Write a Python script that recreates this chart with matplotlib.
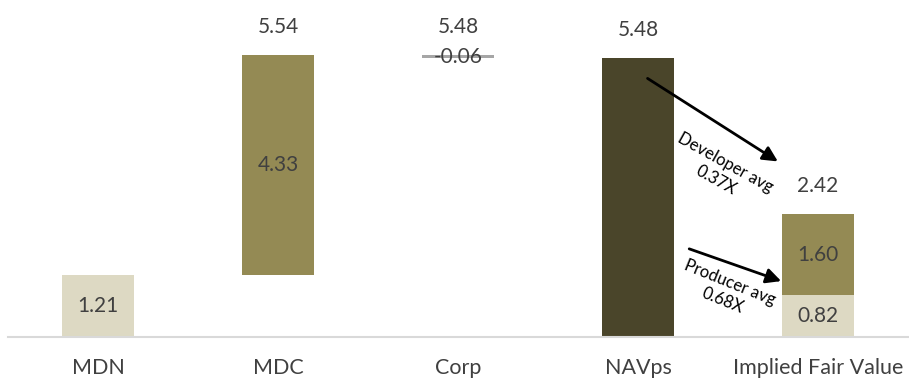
import matplotlib.pyplot as plt
import numpy as np

plt.rcParams['font.family'] = ['Lato', 'DejaVu Sans']

categories = ['MDN', 'MDC', 'Corp', 'NAVps', 'Implied Fair Value']
mdn = 1.21
mdc = 4.33
corp = -0.06
navps = 5.48
ifv_producer = 0.82
ifv_developer = 1.60

c_light = '#DDD9C3'
c_olive = '#948A54'
c_dark = '#4A452A'
c_grey = '#A6A6A6'
c_text = '#404040'

fig = plt.figure(figsize=(9.09, 3.82), dpi=100)
ax = fig.add_axes([8 / 909, 45 / 382, 900 / 909, 337 / 382])

x = np.arange(len(categories))
w = 0.4

ax.bar(x[0], mdn, w, color=c_light)
ax.bar(x[1], mdc, w, bottom=mdn, color=c_olive)
corp_top = mdn + mdc
ax.bar(x[2], -corp, w, bottom=corp_top + corp, color=c_grey)
ax.bar(x[3], navps, w, color=c_dark)
ax.bar(x[4], ifv_producer, w, color=c_light)
ax.bar(x[4], ifv_developer, w, bottom=ifv_producer, color=c_olive)
ifv_total = ifv_producer + ifv_developer

fs = 15
# labels inside bars
ax.text(x[0], mdn / 2, f'{mdn:.2f}', ha='center', va='center', fontsize=fs, color=c_text)
ax.text(x[1], mdn + mdc / 2, f'{mdc:.2f}', ha='center', va='center', fontsize=fs, color=c_text)
ax.text(x[2], corp_top + corp / 2, f'{corp:.2f}', ha='center', va='center', fontsize=fs, color=c_text)
ax.text(x[4], ifv_producer / 2, f'{ifv_producer:.2f}', ha='center', va='center', fontsize=fs, color=c_text)
ax.text(x[4], ifv_producer + ifv_developer / 2, f'{ifv_developer:.2f}', ha='center', va='center',
        fontsize=fs, color=c_text)

# totals above
for xi, top, val in [(x[1], corp_top, corp_top), (x[2], corp_top, corp_top + corp),
                     (x[3], navps, navps), (x[4], ifv_total, ifv_total)]:
    ax.annotate(f'{val:.2f}', (xi, top), xytext=(0, 20), textcoords='offset points',
                ha='center', va='center', fontsize=fs, color=c_text)

# multiple arrows
ax.annotate('', xy=(3.79, 3.42), xytext=(3.04, 5.11),
            arrowprops=dict(arrowstyle='-|>,head_length=0.9,head_width=0.45', color='black', lw=2))
ax.annotate('', xy=(3.81, 1.08), xytext=(3.27, 1.75),
            arrowprops=dict(arrowstyle='-|>,head_length=0.9,head_width=0.45', color='black', lw=2))
ax.text(3.46, 3.25, 'Developer avg\n0.37X', rotation=-29, ha='center', va='center',
        fontsize=12, color='black', rotation_mode='anchor', linespacing=1.25)
ax.text(3.49, 0.9, 'Producer avg\n0.68X', rotation=-22, ha='center', va='center',
        fontsize=12, color='black', rotation_mode='anchor', linespacing=1.25)

ax.set_xlim(-0.5, 4.5)
ax.set_ylim(0, 337 / 50.9)
ax.set_xticks(x)
ax.set_xticklabels(categories, fontsize=15.5, color=c_text)
ax.tick_params(axis='x', length=0, pad=15)
ax.set_yticks([])
for s in ['top', 'right', 'left']:
    ax.spines[s].set_visible(False)
ax.spines['bottom'].set_color('#D9D9D9')
ax.spines['bottom'].set_linewidth(1.5)

fig.savefig('out.png', dpi=100)
